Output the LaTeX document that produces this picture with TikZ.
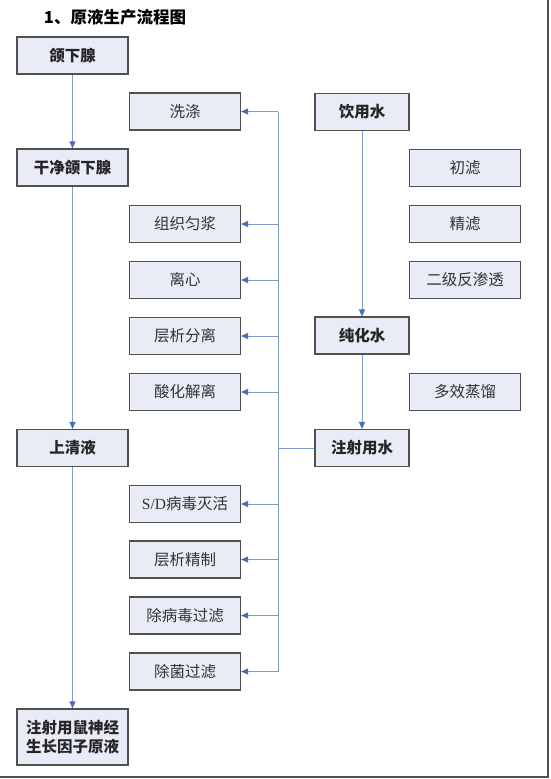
\documentclass[tikz,border=0pt]{standalone}
\usepackage{fontspec}
\setmainfont{Liberation Serif}
\newfontfamily\cjk{Noto Sans CJK SC}
\usetikzlibrary{arrows.meta}
\definecolor{boxfill}{RGB}{233,235,247}
\definecolor{boxline}{RGB}{80,80,80}
\definecolor{flowline}{RGB}{128,156,200}
\definecolor{flowtip}{RGB}{72,112,180}

\begin{document}
\begin{tikzpicture}[x=1pt, y=-1pt, semithick,
    box/.style={draw=boxline, fill=boxfill, line width=1.1pt,
      minimum width=111pt, minimum height=37pt, inner sep=2pt,
      font=\cjk\fontsize{15.5}{19}\selectfont, text=black!80},
    mainbox/.style={box, font=\cjk\bfseries\fontsize{15.5}{19}\selectfont,
      text=black!85},
    waterbox/.style={mainbox, minimum width=94pt},
    flow/.style={draw=flowline, line width=1pt,
      -{Triangle[length=7pt, width=6pt, color=flowtip]}},
    bus/.style={draw=flowline, line width=1pt}]
    \useasboundingbox (0,0) rectangle (550,779);

    % title
    \node[font=\cjk\bfseries\fontsize{16.5}{20}\selectfont] (title) at (115,17)
      {\textbf{1}、原液生产流程图};

    % main column
    \node[mainbox] (gland) at (72.5,55.5) {颌下腺};
    \node[mainbox] (clean) at (72.5,167.5) {干净颌下腺};
    \node[mainbox] (super) at (72.5,448) {上清液};
    \node[mainbox, minimum height=56pt, align=center] (stock) at (72.5,737)
      {注射用鼠神经\\生长因子原液};

    % process steps
    \node[box] (wash) at (185,111.5) {洗涤};
    \node[box] (homog) at (185,224) {组织匀浆};
    \node[box] (centri) at (185,280) {离心};
    \node[box] (chrom) at (185,336) {层析分离};
    \node[box] (acid) at (185,392) {酸化解离};
    \node[box] (sdinact) at (185,504) {\textrm{S/D}病毒灭活};
    \node[box] (polish) at (185,559.5) {层析精制};
    \node[box] (virfilt) at (185,615.5) {除病毒过滤};
    \node[box] (sterfilt) at (185,671.5) {除菌过滤};

    % water preparation
    \node[waterbox] (drink) at (362,112) {饮用水};
    \node[waterbox] (pure) at (362,335.5) {纯化水};
    \node[waterbox] (inject) at (362,448) {注射用水};
    \node[box] (prefilt) at (465,168) {初滤};
    \node[box] (finefilt) at (465,224) {精滤};
    \node[box] (ro) at (465,280) {二级反渗透};
    \node[box] (distil) at (465,392) {多效蒸馏};

    % water bus
    \coordinate (bustop) at (278,111.5);
    \coordinate (busbot) at (278,671.5);
    \path[bus] (bustop) -- (busbot);
    \path[bus] (inject.west) -- (bustop |- inject.west);

    \path[flow] (gland) -- (clean);
    \path[flow] (clean) -- (super);
    \path[flow] (super) -- (stock);
    \path[flow] (drink) -- (pure);
    \path[flow] (pure) -- (inject);

    \path[flow] (bustop) -- (wash.east);
    \path[flow] (bustop |- homog.east) -- (homog.east);
    \path[flow] (bustop |- centri.east) -- (centri.east);
    \path[flow] (bustop |- chrom.east) -- (chrom.east);
    \path[flow] (bustop |- acid.east) -- (acid.east);
    \path[flow] (bustop |- sdinact.east) -- (sdinact.east);
    \path[flow] (bustop |- polish.east) -- (polish.east);
    \path[flow] (bustop |- virfilt.east) -- (virfilt.east);
    \path[flow] (busbot) -- (sterfilt.east);

    % page edges
    \draw[boxline, line width=1.2pt] (548,0) -- (548,777) -- (0,777);
  \end{tikzpicture}
\end{document}
